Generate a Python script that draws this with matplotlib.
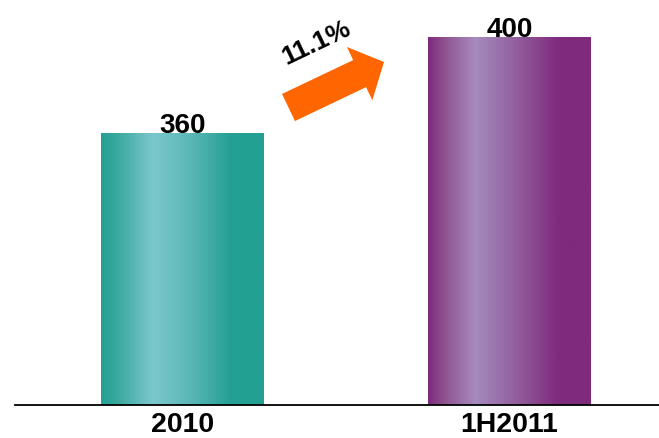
import numpy as np
import matplotlib
matplotlib.use("Agg")
import matplotlib.pyplot as plt
from matplotlib.colors import LinearSegmentedColormap
from matplotlib.patches import Polygon

plt.rcParams['font.family'] = ['Liberation Sans', 'DejaVu Sans']

categories = ["2010", "1H2011"]
values = [360, 400]
growth_label = "11.1%"

bar_gradients = [
    [(0.0, "#26A094"), (0.08, "#34A69A"), (0.32, "#7BC8CC"), (0.55, "#5AB7B5"),
     (0.80, "#24A093"), (1.0, "#22A091")],
    [(0.0, "#7E2A7E"), (0.10, "#8F528F"), (0.29, "#A68BBE"), (0.52, "#9463A0"),
     (0.80, "#7F2A7D"), (1.0, "#7F2A7D")],
]

W, H = 659, 439
fig = plt.figure(figsize=(W / 100, H / 100), dpi=100)
ax = fig.add_axes([15 / W, 1 - 406 / H, 644 / W, 406 / H])

ymin, ymax = 246.7, 415.9
bar_w = 0.498
x = np.arange(len(categories))

grad = np.linspace(0, 1, 256).reshape(1, -1)
for xi, v, stops in zip(x, values, bar_gradients):
    cmap = LinearSegmentedColormap.from_list("g", stops)
    ax.imshow(grad, cmap=cmap, aspect="auto", interpolation="bilinear",
              extent=(xi - bar_w / 2, xi + bar_w / 2, ymin, v), zorder=2)
    ax.text(xi, v + 0.4, str(v), ha="center", va="baseline", fontsize=20,
            fontweight="bold", color="black", zorder=3)

ax.set_xlim(-0.512, 1.457)
ax.set_ylim(ymin, ymax)
ax.set_xticks(x)
ax.set_xticklabels(categories, fontsize=20.5, fontweight="bold")
ax.tick_params(axis="x", length=0, pad=4)
ax.set_yticks([])
for s in ["left", "right", "top"]:
    ax.spines[s].set_visible(False)
ax.spines["bottom"].set_linewidth(1.3)
ax.spines["bottom"].set_color("black")

# growth arrow between the bars (figure pixel geometry, y measured from top)
tail = np.array([288.5, 108.5])
tip = np.array([384.0, 63.0])
d = tip - tail
L = np.linalg.norm(d)
u = d / L
n = np.array([-u[1], u[0]])
shaft_half, head_half, head_len = 15.0, 29.5, 27.0
base = tip - u * head_len
pts = [tail + n * shaft_half, base + n * shaft_half, base + n * head_half, tip,
       base - n * head_half, base - n * shaft_half, tail - n * shaft_half]
pts = [(p[0] / W, 1 - p[1] / H) for p in pts]
fig.patches.append(Polygon(pts, closed=True, transform=fig.transFigure,
                           facecolor="#FF6600", edgecolor="none"))

ang = np.degrees(np.arctan2(-d[1], d[0]))
fig.text(316 / W, 1 - 43 / H, growth_label, rotation=ang, rotation_mode="anchor",
         ha="center", va="center", fontsize=19, fontweight="bold")

fig.savefig("out.png", dpi=100)
